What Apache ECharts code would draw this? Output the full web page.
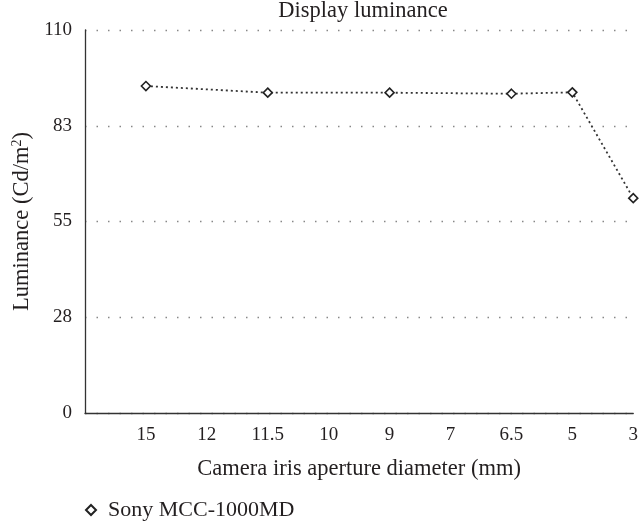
<!DOCTYPE html>
<html><head><meta charset="utf-8">
<script src="https://cdn.jsdelivr.net/npm/echarts@6/dist/echarts.min.js"></script>
<style>html,body{margin:0;padding:0;background:#fff}#c{width:641px;height:522px}</style>
</head><body><div id="c"></div>
<script>
const categories = ['', '15', '12', '11.5', '10', '9', '7', '6.5', '5', '3'];
const luminance = [null, 93.9, null, 92.0, null, 92.0, null, 91.7, 92.1, 61.7];
const seriesName = 'Sony MCC-1000MD';
const yTicks = [0, 27.5, 55, 82.5, 110];

const font = 'Liberation Serif';
const txt = '#231f20';
const chart = echarts.init(document.getElementById('c'));
chart.setOption({
  animation: false,
  title: { text: 'Display luminance', left: 358, top: -5, textAlign: 'center',
    textStyle: { fontFamily: font, fontSize: 22.5, fontWeight: 'normal', color: txt } },
  grid: { left: 85, right: 5, top: 30, bottom: 109, containLabel: false },
  legend: { left: 80, top: 494, itemWidth: 10, itemHeight: 10, itemGap: 6,
    data: [{ name: seriesName, icon: 'diamond' }],
    textStyle: { fontFamily: font, fontSize: 22, color: txt, padding: [0, 0, 0, 7] } },
  xAxis: {
    type: 'category', data: categories, boundaryGap: false,
    name: 'Camera iris aperture diameter (mm)', nameLocation: 'middle', nameGap: 45,
    nameTextStyle: { fontFamily: font, fontSize: 22.5, color: txt },
    axisLine: { lineStyle: { color: '#333', width: 1.3 } },
    axisTick: { show: false },
    axisLabel: { fontFamily: font, fontSize: 19, color: txt, margin: 13, interval: 0 },
    splitLine: { show: false }
  },
  yAxis: {
    type: 'value', min: 0, max: 110, interval: 27.5,
    name: 'Luminance (Cd/m{sup|2})', nameLocation: 'middle', nameGap: 49,
    nameTextStyle: { fontFamily: font, fontSize: 22.5, color: txt,
      rich: { sup: { fontFamily: font, fontSize: 14, verticalAlign: 'top', padding: [0,0,9,0], color: txt } } },
    axisLine: { show: true, lineStyle: { color: '#333', width: 1.3 } },
    axisTick: { show: false },
    axisLabel: { fontFamily: font, fontSize: 19, color: txt, margin: 13,
      formatter: v => String(Math.round(v)) },
    splitLine: { show: true, lineStyle: { color: '#888', type: [1.5, 10], width: 1.3 } }
  },
  series: [{
    name: seriesName, type: 'line', data: luminance, connectNulls: true,
    symbol: 'diamond', symbolSize: 9,
    itemStyle: { color: '#fff', borderColor: '#222', borderWidth: 1.6 },
    lineStyle: { color: '#333', width: 1.8, type: [2, 3] }
  }]
});
</script></body></html>
